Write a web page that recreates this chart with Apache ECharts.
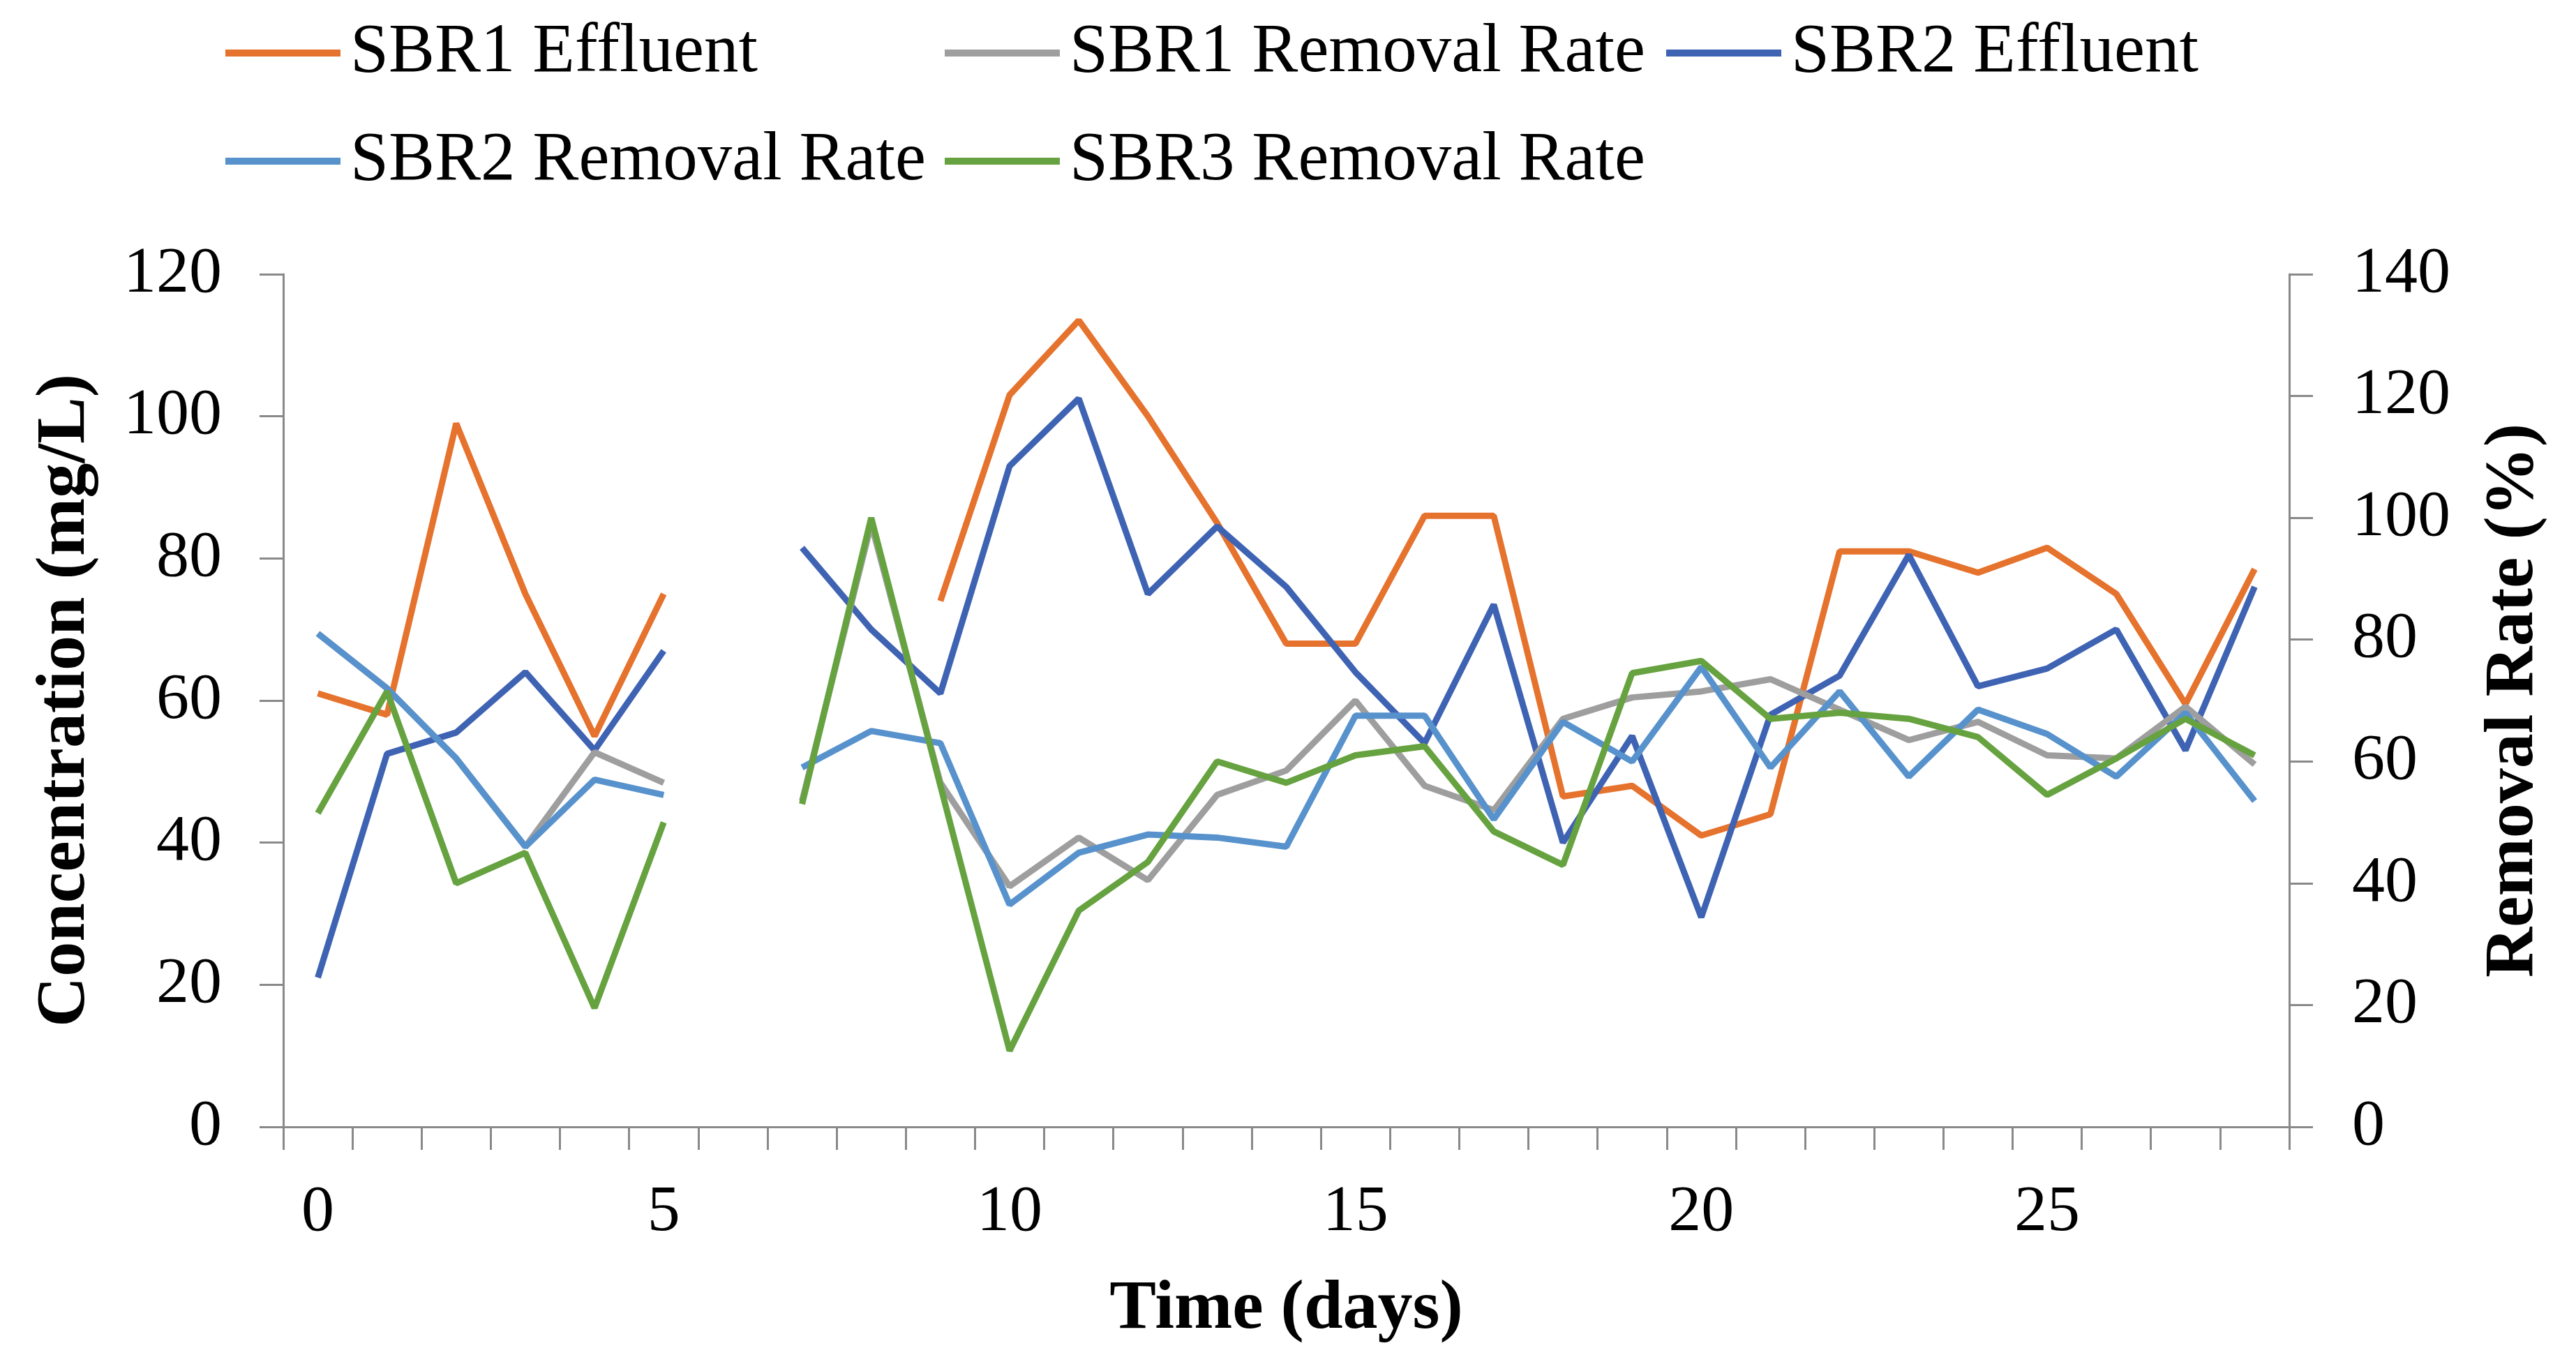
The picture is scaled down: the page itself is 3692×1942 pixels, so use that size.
<!DOCTYPE html>
<html>
<head>
<meta charset="utf-8">
<script src="https://cdn.jsdelivr.net/npm/echarts@6/dist/echarts.min.js"></script>
<style>
html,body{margin:0;padding:0;background:#fff;}
#chart{width:3692px;height:1942px;}
</style>
</head>
<body>
<div id="chart"></div>
<script>
// ---- data ----
var days = ['0','1','2','3','4','5','6','7','8','9','10','11','12','13','14','15','16','17','18','19','20','21','22','23','24','25','26','27','28'];
var sbr1Effluent = [61, 58, 99, 75, 55, 75, null, null, null, 74, 103, 113.5, 100, 85, 68, 68, 86, 86, 46.5, 48, 41, 44, 81, 81, 78, 81.5, 75, 59.5, 78.5];
var sbr2Effluent = [21, 52.5, 55.5, 64, 53, 67, null, 81.5, 70, 61, 93, 102.5, 75, 84.5, 76, 64, 54, 73.5, 40, 55, 29.5, 58, 63.5, 80.5, 62, 64.5, 70, 53, 76];
var sbr1Removal = [81, 72, 60.5, 46, 61.5, 56.5, null, 53.5, 99, 56.5, 39.5, 47.5, 40.5, 54.5, 58.5, 70, 56, 52, 67, 70.5, 71.5, 73.5, 68.5, 63.5, 66.5, 61, 60.5, 69, 59.5];
var sbr2Removal = [81, 72, 60.5, 46, 57, 54.5, null, 59, 65, 63, 36.5, 45, 48, 47.5, 46, 67.5, 67.5, 50.5, 66.5, 60, 75.5, 59, 71.5, 57.5, 68.5, 64.5, 57.5, 68, 53.5];
var sbr3Removal = [51.5, 71.5, 40, 45, 19.5, 50, null, 53, 100, 56, 12.5, 35.5, 43.5, 60, 56.5, 61, 62.5, 48.5, 43, 74.5, 76.5, 67, 68, 67, 64, 54.5, 60.5, 67, 61];
var leftTicks = {min: 0, max: 120, interval: 20};
var rightTicks = {min: 0, max: 140, interval: 20};

// ---- styles ----
var FONT = 'Liberation Serif';
var AXIS_COLOR = '#898989';
var C_SBR1E = '#E5722D';
var C_SBR1R = '#9E9E9E';
var C_SBR2E = '#3F63B3';
var C_SBR2R = '#5792CD';
var C_SBR3R = '#66A23F';
var LW = 9;

function legendCol(left, names) {
  return {
    orient: 'vertical',
    left: left,
    top: 16,
    icon: 'rect',
    itemWidth: 165,
    itemHeight: 10,
    itemGap: 45,
    data: names,
    textStyle: {fontFamily: FONT, fontSize: 99, color: '#000', lineHeight: 110, padding: [0, 0, 0, 9]}
  };
}

var chart = echarts.init(document.getElementById('chart'), null, {renderer: 'canvas'});
var option = {
  animation: false,
  backgroundColor: '#fff',
  legend: [
    legendCol(318, ['SBR1 Effluent', 'SBR2 Removal Rate']),
    legendCol(1349, ['SBR1 Removal Rate', 'SBR3 Removal Rate']),
    legendCol(2383, ['SBR2 Effluent'])
  ],
  grid: {left: 406, right: 411, top: 393, bottom: 327, containLabel: false},
  xAxis: {
    type: 'category',
    data: days,
    boundaryGap: true,
    name: 'Time (days)',
    nameLocation: 'middle',
    nameGap: 212,
    nameTextStyle: {fontFamily: FONT, fontSize: 100, fontWeight: 'bold', color: '#000'},
    axisLine: {lineStyle: {color: AXIS_COLOR, width: 3}},
    axisTick: {show: true, interval: 0, length: 33, lineStyle: {color: AXIS_COLOR, width: 3}},
    axisLabel: {interval: 4, margin: 76, fontFamily: FONT, fontSize: 94, color: '#000'},
    splitLine: {show: false}
  },
  yAxis: [
    {
      type: 'value',
      position: 'left',
      min: leftTicks.min, max: leftTicks.max, interval: leftTicks.interval,
      name: 'Concentration (mg/L)',
      nameLocation: 'middle',
      nameRotate: 90,
      nameGap: 312,
      nameTextStyle: {fontFamily: FONT, fontSize: 100, fontWeight: 'bold', color: '#000', verticalAlign: 'middle'},
      axisLine: {show: true, lineStyle: {color: AXIS_COLOR, width: 3}},
      axisTick: {show: true, length: 34, lineStyle: {color: AXIS_COLOR, width: 3}},
      axisLabel: {margin: 88, fontFamily: FONT, fontSize: 94, color: '#000'},
      splitLine: {show: false}
    },
    {
      type: 'value',
      position: 'right',
      alignTicks: false,
      min: rightTicks.min, max: rightTicks.max, interval: rightTicks.interval,
      name: 'Removal Rate (%)',
      nameLocation: 'middle',
      nameRotate: 90,
      nameGap: 322,
      nameTextStyle: {fontFamily: FONT, fontSize: 100, fontWeight: 'bold', color: '#000', verticalAlign: 'middle'},
      axisLine: {show: true, lineStyle: {color: AXIS_COLOR, width: 3}},
      axisTick: {show: true, length: 34, lineStyle: {color: AXIS_COLOR, width: 3}},
      axisLabel: {margin: 90, fontFamily: FONT, fontSize: 94, color: '#000'},
      splitLine: {show: false}
    }
  ],
  series: [
    {name: 'SBR1 Effluent', type: 'line', yAxisIndex: 0, data: sbr1Effluent, symbol: 'none', color: C_SBR1E, lineStyle: {width: LW, color: C_SBR1E}},
    {name: 'SBR2 Effluent', type: 'line', yAxisIndex: 0, data: sbr2Effluent, symbol: 'none', color: C_SBR2E, lineStyle: {width: LW, color: C_SBR2E}},
    {name: 'SBR1 Removal Rate', type: 'line', yAxisIndex: 1, data: sbr1Removal, symbol: 'none', color: C_SBR1R, lineStyle: {width: LW, color: C_SBR1R}},
    {name: 'SBR2 Removal Rate', type: 'line', yAxisIndex: 1, data: sbr2Removal, symbol: 'none', color: C_SBR2R, lineStyle: {width: LW, color: C_SBR2R}},
    {name: 'SBR3 Removal Rate', type: 'line', yAxisIndex: 1, data: sbr3Removal, symbol: 'none', color: C_SBR3R, lineStyle: {width: LW, color: C_SBR3R}}
  ]
};
chart.setOption(option);
</script>
</body>
</html>
